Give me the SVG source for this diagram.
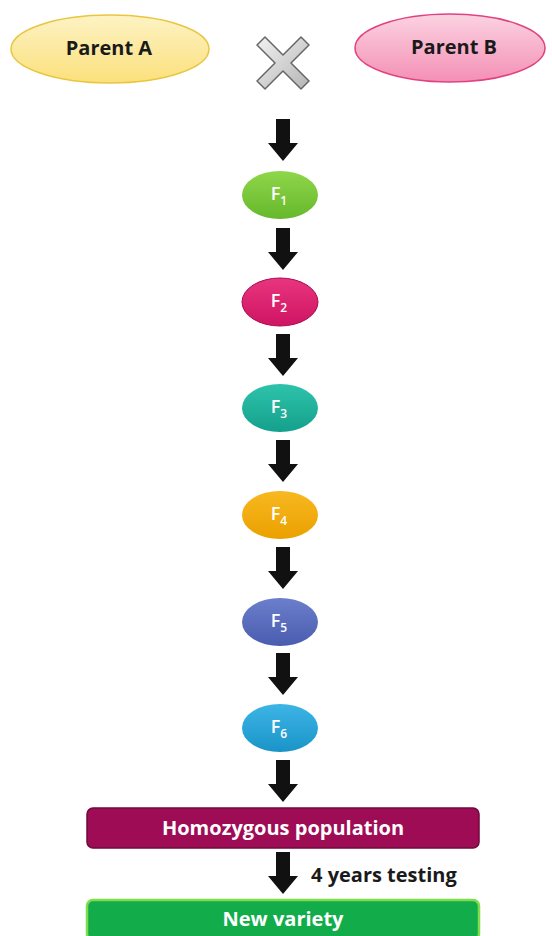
<svg xmlns="http://www.w3.org/2000/svg" width="552" height="936" viewBox="0 0 552 936">
<defs>
<linearGradient id="gA" x1="0" y1="0" x2="0" y2="1"><stop offset="0" stop-color="#fdf3c4"/><stop offset="1" stop-color="#fbe07c"/></linearGradient>
<linearGradient id="gB" x1="0" y1="0" x2="0" y2="1"><stop offset="0" stop-color="#fbd3e1"/><stop offset="1" stop-color="#f48fb5"/></linearGradient>
<linearGradient id="gX" x1="0" y1="0" x2="1" y2="1"><stop offset="0" stop-color="#f2f2f2"/><stop offset="1" stop-color="#b5b5b5"/></linearGradient>
<linearGradient id="g1" x1="0" y1="0" x2="0" y2="1"><stop offset="0" stop-color="#8fd64a"/><stop offset="1" stop-color="#66b82c"/></linearGradient>
<linearGradient id="g2" x1="0" y1="0" x2="0" y2="1"><stop offset="0" stop-color="#e8357e"/><stop offset="1" stop-color="#cf1463"/></linearGradient>
<linearGradient id="g3" x1="0" y1="0" x2="0" y2="1"><stop offset="0" stop-color="#2ec3ab"/><stop offset="1" stop-color="#14a08c"/></linearGradient>
<linearGradient id="g4" x1="0" y1="0" x2="0" y2="1"><stop offset="0" stop-color="#f8b820"/><stop offset="1" stop-color="#eaa000"/></linearGradient>
<linearGradient id="g5" x1="0" y1="0" x2="0" y2="1"><stop offset="0" stop-color="#6b7fcc"/><stop offset="1" stop-color="#4a5cae"/></linearGradient>
<linearGradient id="g6" x1="0" y1="0" x2="0" y2="1"><stop offset="0" stop-color="#3db4e6"/><stop offset="1" stop-color="#1a94c8"/></linearGradient>
<path id="arr" d="M-7,0 H7 V24 H15 L0,42 L-15,24 H-7 Z" fill="#111"/>
</defs>
<style>
text{font-family:"Open Sans","Liberation Sans",sans-serif;font-weight:bold;text-anchor:middle}
.dark{fill:#1a1a1a;font-size:20px}
.w{fill:#fff;font-size:18px;font-weight:600}
.sub{font-size:12px}
.box{fill:#fff;font-size:20px}
</style>
<g id="parentA">
<ellipse cx="110" cy="49" rx="99" ry="34" fill="url(#gA)" stroke="#e9c640" stroke-width="1.5"/>
<text class="dark" x="109" y="55">Parent A</text>
</g>
<g id="cross">
<path d="M257,45 L265,37 L283,55 L301,37 L309,45 L291,63 L309,81 L301,89 L283,71 L265,89 L257,81 L275,63 Z" fill="url(#gX)" stroke="#666" stroke-width="1.5" stroke-linejoin="round"/>
</g>
<g id="parentB">
<ellipse cx="450" cy="48" rx="95" ry="34" fill="url(#gB)" stroke="#e2417f" stroke-width="1.5"/>
<text class="dark" x="454" y="54">Parent B</text>
</g>
<g id="F1">
<ellipse cx="280" cy="195" rx="38" ry="24" fill="url(#g1)"/>
<text class="w" x="279" y="200">F<tspan class="sub" dy="5">1</tspan></text>
</g>
<g id="F2">
<ellipse cx="280" cy="302" rx="38" ry="24" fill="url(#g2)" stroke="#a80c4c" stroke-width="1"/>
<text class="w" x="279" y="307">F<tspan class="sub" dy="5">2</tspan></text>
</g>
<g id="F3">
<ellipse cx="280" cy="408" rx="38" ry="24" fill="url(#g3)"/>
<text class="w" x="279" y="413">F<tspan class="sub" dy="5">3</tspan></text>
</g>
<g id="F4">
<ellipse cx="280" cy="515" rx="38" ry="24" fill="url(#g4)"/>
<text class="w" x="279" y="520">F<tspan class="sub" dy="5">4</tspan></text>
</g>
<g id="F5">
<ellipse cx="280" cy="622" rx="38" ry="24" fill="url(#g5)"/>
<text class="w" x="279" y="627">F<tspan class="sub" dy="5">5</tspan></text>
</g>
<g id="F6">
<ellipse cx="280" cy="728" rx="38" ry="24" fill="url(#g6)"/>
<text class="w" x="279" y="733">F<tspan class="sub" dy="5">6</tspan></text>
</g>
<g id="homozygous">
<rect x="87" y="808" width="392" height="40" rx="6" fill="#9e0c55" stroke="#6f0a3b" stroke-width="1.5"/>
<text class="box" x="283" y="835">Homozygous population</text>
</g>
<g id="newVariety">
<rect x="87" y="900" width="392" height="40" rx="6" fill="#12ad4a" stroke="#7fdc4f" stroke-width="2.5"/>
<text class="box" x="283" y="926">New variety</text>
</g>
<g id="connectors">
<use href="#arr" x="283" y="119"/>
<use href="#arr" x="283" y="228"/>
<use href="#arr" x="283" y="334"/>
<use href="#arr" x="283" y="440"/>
<use href="#arr" x="283" y="547"/>
<use href="#arr" x="283" y="653"/>
<use href="#arr" x="283" y="760"/>
<use href="#arr" x="283" y="852"/>
<text class="dark" x="311" y="882" style="text-anchor:start">4 years testing</text>
</g>
</svg>
